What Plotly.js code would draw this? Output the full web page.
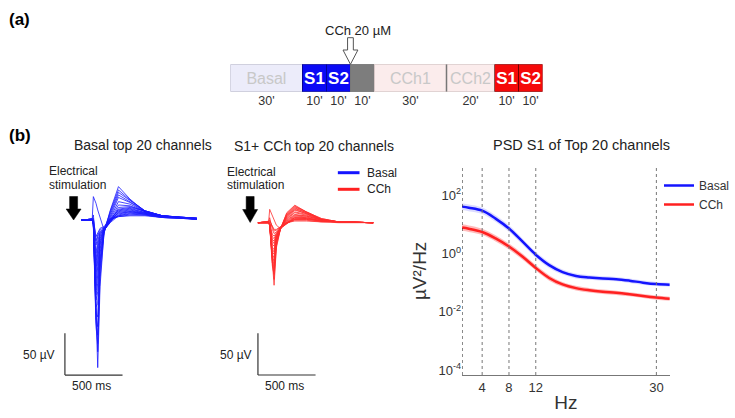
<!DOCTYPE html>
<html><head><meta charset="utf-8">
<script src="https://cdn.plot.ly/plotly-3.0.1.min.js"></script>
<style>html,body{margin:0;padding:0;background:#fff}#chart{width:735px;height:418px}</style>
</head><body><div id="chart"></div>
<script>
// ---------- DATA ----------
// (a) protocol timeline (minutes)
const segLabels = ['Basal','S1','S2','','CCh1','CCh2','S1','S2'];
const segDurations = [30,10,10,10,30,20,10,10];

// (b) evoked waveforms: time (ms from trace start) and amplitude (µV)
const waveTime = [0, 92, 102, 125, 140, 160, 195, 250, 320, 420, 550, 700, 1000];
const basalWaves = [
  [0, 0, -5, -120, -177, -80, -14, 12, 40, 25, 10, 5, 1],
  [0, 1, -4, -110, -158, -70, -16, 11, 36, 24, 11, 5, 1],
  [0, 0, -6, -128, -148, -60, -12, 9, 33, 23, 11, 5, 2],
  [0, 1, -3, -122, -138, -55, -15, 7, 30, 22, 11, 5, 1],
  [0, 0, -5, -118, -128, -50, -13, 5, 27, 21, 10, 5, 2],
  [0, 1, -4, -112, -116, -46, -14, 3, 22, 19, 10, 5, 1],
  [0, 0, -3, -104, -100, -40, -12, 2, 18, 17, 10, 5, 2],
  [0, 1, -5, -96, -86, -35, -13, 0, 15, 16, 11, 5, 1],
  [0, 0, -4, -90, -76, -30, -12, -1, 13, 15, 10, 5, 2],
  [0, 1, -3, -84, -66, -28, -11, 0, 12, 14, 9, 4, 1],
  [0, 0, -5, -78, -56, -25, -10, 1, 11, 13, 9, 4, 2],
  [0, 1, -4, -70, -48, -22, -12, -2, 10, 12, 8, 4, 1],
  [0, 0, -3, -62, -40, -20, -11, -1, 9, 11, 8, 5, 2],
  [0, 1, -2, -55, -35, -18, -10, 0, 8, 10, 8, 4, 1],
  [0, 0, -3, -48, -30, -16, -12, -2, 7, 10, 7, 4, 2],
  [0, 1, -2, -40, -25, -15, -11, -1, 6, 9, 7, 3, 1],
  [0, 0, 28, 20, 12, 3, -12, -3, 5, 8, 7, 4, 2],
  [0, 1, 6, -30, -20, -14, -10, 0, 5, 7, 6, 3, 1],
  [0, 0, 2, -25, -18, -12, -9, 1, 4, 6, 6, 3, 2],
  [0, 1, 1, -20, -15, -10, -8, 2, 4, 5, 5, 3, 1]
];
const cchWaves = [
  [0, 0, -3, -55, -75, -30, -8, 12, 21, 13, 5, 1, 0],
  [0, 1, -2, -50, -68, -28, -7, 11, 20, 13, 5, 1, 0],
  [0, 0, -3, -52, -62, -25, -8, 10, 19, 13, 4, 1, 0],
  [0, 1, -2, -48, -58, -24, -7, 9, 18, 12, 4, 1, 0],
  [0, 0, -3, -45, -54, -22, -8, 8, 17, 12, 4, 1, 0],
  [0, 1, -2, -42, -50, -22, -7, 7, 16, 11, 4, 1, 0],
  [0, 0, -3, -40, -46, -20, -8, 6, 15, 11, 3, 1, 0],
  [0, 1, -2, -38, -42, -20, -6, 5, 13, 10, 3, 1, 0],
  [0, 0, -3, -35, -38, -18, -7, 4, 12, 9, 3, 1, 0],
  [0, 1, -2, -32, -35, -18, -6, 3, 10, 8, 3, 1, 0],
  [0, 0, -2, -30, -32, -17, -7, 2, 9, 8, 3, 1, 0],
  [0, 1, -2, -26, -28, -16, -6, 1, 8, 7, 2, 1, 0],
  [0, 0, -2, -22, -25, -15, -7, 0, 7, 6, 2, 1, 0],
  [0, 1, -1, -20, -22, -14, -6, 0, 6, 6, 2, 1, 0],
  [0, 0, -2, -17, -19, -13, -7, -1, 6, 5, 2, 1, 0],
  [0, 1, -1, -14, -16, -12, -6, -1, 5, 5, 2, 1, 0],
  [0, 0, 16, 8, 2, -3, -7, -1, 4, 4, 2, 1, 0],
  [0, 1, 6, -8, -13, -11, -6, 0, 4, 4, 2, 1, 0],
  [0, 0, 3, -6, -10, -9, -5, 0, 3, 3, 1, 1, 0],
  [0, 1, 2, -4, -8, -8, -5, 0, 2, 2, 1, 0, 0]
];

// PSD (µV²/Hz)
const psdHz = [1,2,4,6,8,10,12,14,16,18,20,22,24,26,28,30,32];
const psdBasal = [40.7,37.2,29.5,15.8,7.2,2.6,0.91,0.40,0.23,0.17,0.15,0.138,0.132,0.117,0.100,0.089,0.085];
const psdBasalUpper = [53,48,38,20.5,9.3,3.3,1.15,0.50,0.28,0.205,0.18,0.165,0.157,0.139,0.118,0.105,0.100];
const psdBasalLower = [31,28.5,22.7,12.2,5.6,2.05,0.72,0.32,0.19,0.14,0.125,0.116,0.111,0.098,0.085,0.076,0.072];
const psdCCh = [7.8,7.1,5.5,3.3,1.74,0.79,0.32,0.145,0.087,0.065,0.055,0.049,0.045,0.040,0.035,0.031,0.028];
const psdCChUpper = [10.1,9.2,7.1,4.2,2.2,1.0,0.40,0.18,0.105,0.078,0.066,0.058,0.053,0.047,0.041,0.036,0.033];
const psdCChLower = [6.0,5.5,4.3,2.6,1.37,0.62,0.26,0.117,0.072,0.054,0.046,0.041,0.038,0.034,0.030,0.026,0.024];
const bandHz = [4,8,12,30];
const psdTickVals = [1e-4,1e-2,1,100];
const psdTickText = ['10<sup>-4</sup>','10<sup>-2</sup>','10<sup>0</sup>','10<sup>2</sup>'];

// ---------- STYLE / LAYOUT ----------
const W = 735, H = 418;
const FONT = 'Liberation Sans, Arial, sans-serif';
const px = p => p / W;
const py = p => 1 - p / H;

const segStyle = [
  {fill:'rgb(236,236,250)', line:'#c4c4d4', txt:'#c8c8c8', bold:false},
  {fill:'rgb(10,10,245)', line:'rgba(0,0,90,0.6)', txt:'#ffffff', bold:true},
  {fill:'rgb(10,10,245)', line:'rgba(0,0,90,0.6)', txt:'#ffffff', bold:true},
  {fill:'rgb(125,125,125)', line:'#777', txt:'#fff', bold:false},
  {fill:'rgb(251,236,236)', line:'#d8c8c8', txt:'#c8c8c8', bold:false},
  {fill:'rgb(251,236,236)', line:'#d8c8c8', txt:'#c8c8c8', bold:false},
  {fill:'rgb(245,10,10)', line:'rgba(90,0,0,0.6)', txt:'#ffffff', bold:true},
  {fill:'rgb(245,10,10)', line:'rgba(90,0,0,0.6)', txt:'#ffffff', bold:true}
];

const traces = [];

// waveforms
basalWaves.forEach(v => traces.push({
  x: waveTime, y: v, xaxis:'x', yaxis:'y', type:'scatter', mode:'lines',
  line:{color:'rgb(25,25,255)', width:0.8}, showlegend:false, hoverinfo:'skip'
}));
cchWaves.forEach(v => traces.push({
  x: waveTime, y: v, xaxis:'x2', yaxis:'y2', type:'scatter', mode:'lines',
  line:{color:'rgb(255,45,45)', width:0.8}, showlegend:false, hoverinfo:'skip'
}));

// PSD bands + lines
function band(lower, upper, color){
  traces.push({x: psdHz, y: lower, xaxis:'x3', yaxis:'y3', type:'scatter', mode:'lines',
    line:{width:0, shape:'spline'}, showlegend:false, hoverinfo:'skip'});
  traces.push({x: psdHz, y: upper, xaxis:'x3', yaxis:'y3', type:'scatter', mode:'lines',
    line:{width:0, shape:'spline'}, fill:'tonexty', fillcolor:color, showlegend:false, hoverinfo:'skip'});
}
band(psdBasalLower, psdBasalUpper, 'rgba(90,90,255,0.22)');
band(psdCChLower, psdCChUpper, 'rgba(255,60,60,0.35)');
traces.push({x: psdHz, y: psdBasal, name:'Basal', xaxis:'x3', yaxis:'y3', type:'scatter', mode:'lines',
  line:{color:'#1414ff', width:2.5, shape:'spline'}, hoverinfo:'skip'});
traces.push({x: psdHz, y: psdCCh, name:'CCh', xaxis:'x3', yaxis:'y3', type:'scatter', mode:'lines',
  line:{color:'#ff2020', width:2.5, shape:'spline'}, hoverinfo:'skip'});

// timeline bars
segDurations.forEach((d, i) => {
  const t = {
    type:'bar', orientation:'h', x:[d], y:[0], xaxis:'x4', yaxis:'y4',
    marker:{color: segStyle[i].fill, line:{color: segStyle[i].line, width:1}},
    showlegend:false, hoverinfo:'skip'
  };
  if (segLabels[i]) {
    t.text = [segStyle[i].bold ? '<b>'+segLabels[i]+'</b>' : segLabels[i]];
    t.textposition = 'inside';
    t.insidetextanchor = 'middle';
    t.textangle = 0;
    t.constraintext = 'none';
    t.textfont = {family:FONT, size: segStyle[i].bold ? 17 : 16, color: segStyle[i].txt};
  } else {
    t.textposition = 'none';
  }
  traces.push(t);
});

// timeline tick positions (segment centres) from durations
const segCenters = [];
let acc = 0;
segDurations.forEach(d => { segCenters.push(acc + d/2); acc += d; });
const segTickText = segDurations.map(d => d + "'");

const shapes = [];
// CCh1 | CCh2 separator
shapes.push({type:'line', xref:'x4', yref:'y4', x0:90, x1:90, y0:-0.5, y1:0.5, line:{color:'#777', width:1.5}});
// hollow arrow CCh 20 µM (x in minutes)
shapes.push({type:'path', xref:'x4', yref:'paper',
  path:`M 48.8,${py(37.7)} L 51.2,${py(37.7)} L 51.2,${py(50)} L 53.1,${py(50)} L 50,${py(64.3)} L 46.9,${py(50)} L 48.8,${py(50)} Z`,
  fillcolor:'#ffffff', line:{color:'#555', width:1}});

// stimulation arrows (paper px)
function stimArrow(cx, top, base, tip){
  const sh = 4, hh = 7.5;
  return {type:'path', xref:'paper', yref:'paper', fillcolor:'#000', line:{color:'#000', width:0.5},
    path:`M ${px(cx-sh)},${py(top)} L ${px(cx+sh)},${py(top)} L ${px(cx+sh)},${py(base)} L ${px(cx+hh)},${py(base)} L ${px(cx)},${py(tip)} L ${px(cx-hh)},${py(base)} L ${px(cx-sh)},${py(base)} Z`};
}
shapes.push(stimArrow(73.7, 196.5, 209, 220));
shapes.push(stimArrow(250.5, 196.5, 209.5, 222.5));

// scale bars (data coords)
const sb = {color:'#333', width:1.2};
shapes.push({type:'line', xref:'x', yref:'y', x0:-144.7, x1:-144.7, y0:-185.9, y1:-135.9, line:sb});
shapes.push({type:'line', xref:'x', yref:'y', x0:-144.7, x1:355.3, y0:-185.9, y1:-185.9, line:sb});
shapes.push({type:'line', xref:'x2', yref:'y2', x0:0, x1:0, y0:-182.6, y1:-132.6, line:sb});
shapes.push({type:'line', xref:'x2', yref:'y2', x0:0, x1:500, y0:-182.6, y1:-182.6, line:sb});

// PSD dotted lines
shapes.push({type:'line', xref:'x3', yref:'y3 domain', x0:1, x1:1, y0:0, y1:1, line:{color:'#222', width:1, dash:'dot'}});
bandHz.forEach(f => shapes.push({type:'line', xref:'x3', yref:'y3 domain', x0:f, x1:f, y0:0, y1:1,
  line:{color:'#777', width:1, dash:'dot'}}));

// waveform panel legend
shapes.push({type:'line', xref:'paper', yref:'paper', x0:px(338.3), x1:px(360), y0:py(172.7), y1:py(172.7), line:{color:'#1414ff', width:3}});
shapes.push({type:'line', xref:'paper', yref:'paper', x0:px(338.3), x1:px(360), y0:py(189.3), y1:py(189.3), line:{color:'#ff2020', width:3}});

const ann = (x, y, text, size, opts={}) => Object.assign({
  xref:'paper', yref:'paper', x:px(x), y:py(y), text, showarrow:false,
  xanchor:'center', yanchor:'middle', font:{family:FONT, size, color:'#222'}
}, opts);

const annotations = [
  ann(20, 19.5, '<b>(a)</b>', 17, {font:{family:FONT, size:17, color:'#000'}}),
  ann(20.5, 135.5, '<b>(b)</b>', 17, {font:{family:FONT, size:17, color:'#000'}}),
  ann(358.8, 30.7, 'CCh 20 µM', 13),
  ann(143.3, 145, 'Basal top 20 channels', 14),
  ann(314, 145.5, 'S1+ CCh top 20 channels', 14),
  ann(582.7, 145, 'PSD S1 of Top 20 channels', 14.5),
  ann(47.5, 171, 'Electrical', 12, {xanchor:'left'}),
  ann(47.5, 184.5, 'stimulation', 12, {xanchor:'left'}),
  ann(225.5, 171.5, 'Electrical', 12, {xanchor:'left'}),
  ann(225.5, 185, 'stimulation', 12, {xanchor:'left'}),
  ann(365, 172.7, 'Basal', 12, {xanchor:'left'}),
  ann(365, 189.3, 'CCh', 12, {xanchor:'left'}),
  ann(57, 355, '50 µV', 12, {xanchor:'right'}),
  ann(254, 355, '50 µV', 12, {xanchor:'right'}),
  ann(92, 386, '500 ms', 12),
  ann(284.5, 385.5, '500 ms', 12)
];

const hidden = {visible:false, fixedrange:true, showgrid:false, zeroline:false};

const layout = {
  width: W, height: H,
  margin:{l:0, r:0, t:0, b:0},
  paper_bgcolor:'#fff', plot_bgcolor:'rgba(0,0,0,0)',
  font:{family:FONT, color:'#222'},
  barmode:'stack', bargap:0,
  xaxis: Object.assign({domain:[px(55), px(205)], range:[-231.4, 1068.6]}, hidden),
  yaxis: Object.assign({domain:[py(395), py(160)], range:[-209.8, 71.9]}, hidden),
  xaxis2: Object.assign({domain:[px(235), px(385)], range:[-201.9, 1098.1]}, hidden),
  yaxis2: Object.assign({domain:[py(395), py(160)], range:[-206.6, 75.2]}, hidden),
  xaxis3: {domain:[px(462.7), px(670.7)], range:[1, 32], anchor:'y3', automargin:false,
    tickmode:'array', tickvals: bandHz, ticktext: bandHz.map(String), ticks:'',
    showgrid:false, zeroline:false, showline:true, linecolor:'#777', linewidth:1,
    tickfont:{family:FONT, size:13, color:'#333'},
    title:{text:'Hz', font:{family:FONT, size:19, color:'#333'}, standoff:2}, fixedrange:true},
  yaxis3: {type:'log', domain:[py(375), py(166.7)], range:[-4.17, 2.98], anchor:'x3', automargin:false,
    tickmode:'array', tickvals: psdTickVals, ticktext: psdTickText, ticks:'',
    showgrid:false, zeroline:false, showline:false,
    tickfont:{family:FONT, size:13, color:'#333'},
    title:{text:'µV²/Hz', font:{family:FONT, size:19, color:'#333'}, standoff:6}, fixedrange:true},
  xaxis4: {domain:[px(230.7), px(543.3)], range:[0, 130], anchor:'y4', automargin:false,
    tickmode:'array', tickvals: segCenters, ticktext: segTickText, ticks:'',
    showgrid:false, zeroline:false, showline:false,
    tickfont:{family:FONT, size:12.5, color:'#333'}, fixedrange:true},
  yaxis4: Object.assign({domain:[py(91.7), py(64.3)], range:[-0.5, 0.5], anchor:'x4'}, hidden),
  showlegend:true,
  legend:{x:px(660), y:py(171), xanchor:'left', yanchor:'top', bgcolor:'rgba(0,0,0,0)', traceorder:'normal',
    font:{family:FONT, size:12, color:'#333'}, tracegroupgap:0},
  shapes, annotations
};

Plotly.newPlot('chart', traces, layout, {displayModeBar:false, staticPlot:true});
</script></body></html>
